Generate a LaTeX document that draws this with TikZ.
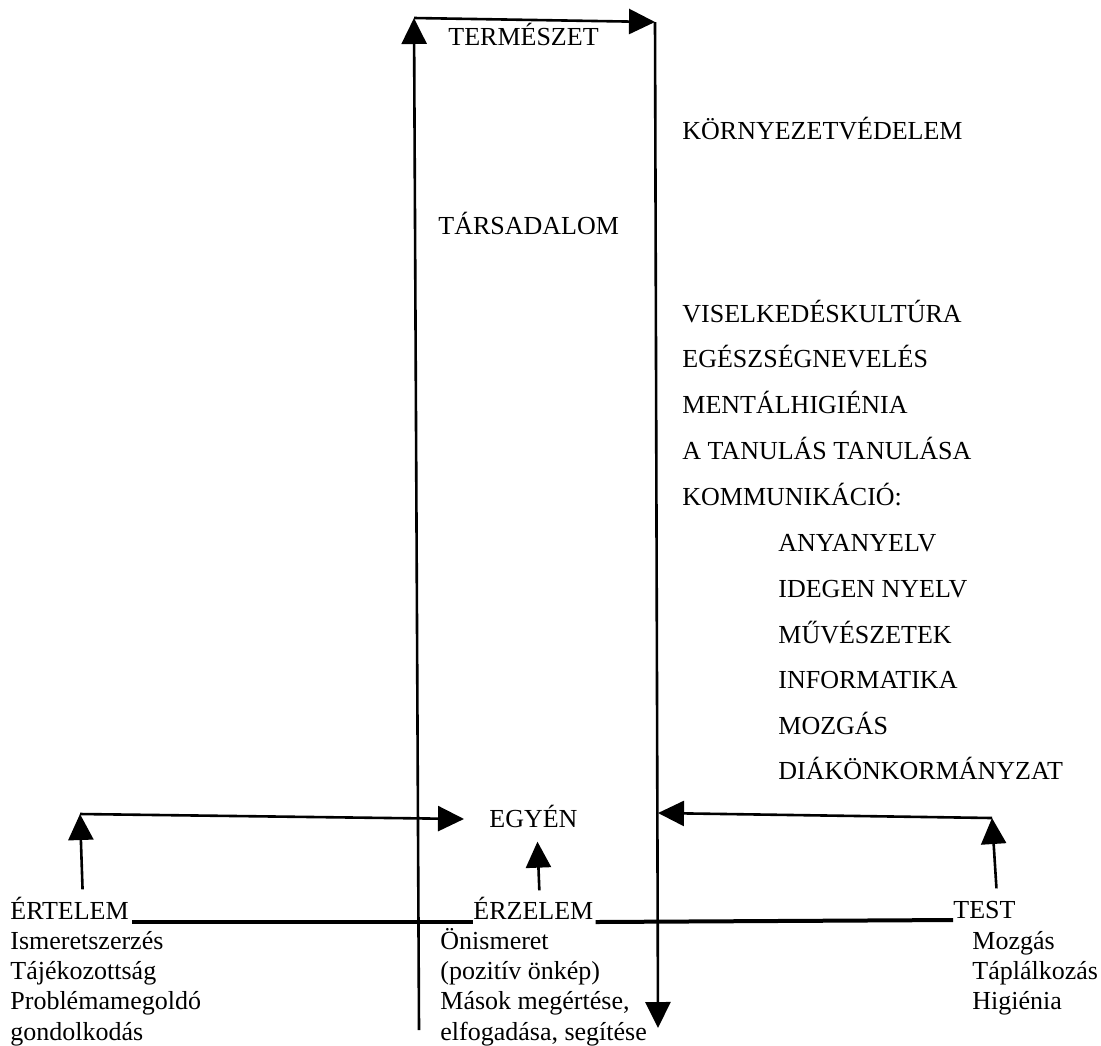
\documentclass[tikz,border=0pt]{standalone}
\usepackage{fontspec}
\setmainfont{Liberation Serif}
\usetikzlibrary{arrows.meta}

\begin{document}
\begin{tikzpicture}[x=0.5pt, y=-0.5pt,
    txt/.style={anchor=base west, inner sep=0pt, font=\fontsize{13pt}{15pt}\selectfont},
    arr/.style={line width=1.3pt, -{Triangle[length=13pt, width=12.5pt]}},
    bar/.style={line width=2pt}]
  \useasboundingbox (0,0) rectangle (1101,1045);

  % Frame corners
  \coordinate (lt) at (414,18);
  \coordinate (lb) at (419,1030);
  \coordinate (rt) at (655,22);
  \coordinate (rb) at (658,1028);
  \coordinate (lcorner) at (80,814);
  \coordinate (rcorner) at (992,818);
  \coordinate (rmid) at (658,813);

  % Upper labels
  \node[txt] (termeszet) at (448,45) {TERMÉSZET};
  \node[txt] (tarsadalom) at (438,234) {TÁRSADALOM};
  \foreach \name/\y/\t in {korny/139/KÖRNYEZETVÉDELEM, visel/322/VISELKEDÉSKULTÚRA,
      egesz/367/EGÉSZSÉGNEVELÉS, mental/413/MENTÁLHIGIÉNIA,
      tanul/459/A TANULÁS TANULÁSA, komm/505/KOMMUNIKÁCIÓ:}
    \node[txt] (\name) at (682,\y) {\t};
  \foreach \name/\y/\t in {anya/551/ANYANYELV, idegen/597/IDEGEN NYELV,
      muv/643/MŰVÉSZETEK, info/688/INFORMATIKA, mozg/734/MOZGÁS,
      diak/779/DIÁKÖNKORMÁNYZAT}
    \node[txt] (\name) at (778,\y) {\t};

  % Lower labels
  \node[txt] (egyen) at (489,827) {EGYÉN};
  \node[txt] (ertelem) at (10,919) {ÉRTELEM};
  \node[txt] (erzelem) at (473,919) {ÉRZELEM};
  \node[txt] (test) at (953,918) {TEST};
  \foreach \t [count=\i] in {Ismeretszerzés, Tájékozottság, Problémamegoldó, gondolkodás}
    \node[txt] (ert\i) at (10,919+30.3*\i) {\t};
  \foreach \t [count=\i] in {Önismeret, (pozitív önkép), {Mások megértése,}, {elfogadása, segítése}}
    \node[txt] (erz\i) at (440,919+30.3*\i) {\t};
  \foreach \t [count=\i] in {Mozgás, Táplálkozás, Higiénia}
    \node[txt] (test\i) at (972,919+30.3*\i) {\t};

  % Frame arrows
  \draw[arr] (lb) -- (lt);
  \draw[arr] (lt) -- (rt);
  \draw[arr] (rt) -- (rb);

  % Bars between the three
  \draw[bar] ([xshift=1.5pt,yshift=-1.5pt]ertelem.base east) -- ([yshift=-1.5pt]erzelem.base west);
  \draw[bar] ([xshift=1pt,yshift=-1.5pt]erzelem.base east) -- ([yshift=-1pt]test.base west);

  % Arrows to the individual
  \draw[arr] ([xshift=6.5pt,yshift=3.5pt]ertelem.north) -- (lcorner);
  \draw[arr] (lcorner) -- ([xshift=-12.5pt,yshift=-1.5pt]egyen.west);
  \draw[arr] ([xshift=3pt,yshift=3pt]erzelem.north) -- ([xshift=2pt,yshift=-7pt]egyen.south);
  \draw[arr] ([xshift=6pt,yshift=6pt]test.north) -- (rcorner);
  \draw[arr] (rcorner) -- (rmid);
\end{tikzpicture}
\end{document}
